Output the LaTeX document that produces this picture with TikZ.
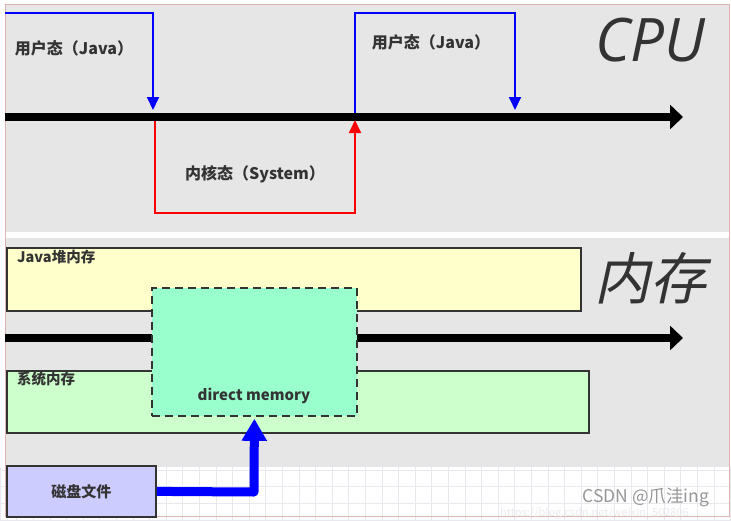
\documentclass[tikz,border=0pt]{standalone}
\usepackage{fontspec}
\setmainfont{Noto Sans CJK SC}
\newfontfamily\cpufont{Open Sans}
\newfontfamily\slcjk{Noto Sans CJK SC}[FakeSlant=0.22]
\usetikzlibrary{arrows.meta}
\definecolor{panelgray}{HTML}{E6E6E6}
\definecolor{heapyellow}{HTML}{FFFFCC}
\definecolor{sysgreen}{HTML}{CCFFCC}
\definecolor{mint}{HTML}{99FFCC}
\definecolor{diskblue}{HTML}{CCCCFF}
\definecolor{txt}{HTML}{333333}
\definecolor{gridc}{HTML}{E8E8EE}
\definecolor{framec}{HTML}{DCB4B4}
\definecolor{pureblue}{HTML}{0000FF}
\definecolor{purered}{HTML}{FF0000}
\definecolor{wmgray}{HTML}{969696}
\definecolor{urlgray}{HTML}{EBEBEF}
\tikzset{
  panel/.style={fill=panelgray},
  membox/.style={draw=txt, line width=1.8pt, anchor=north west, inner sep=0pt},
  lbl/.style={text=txt, font=\bfseries\fontsize{16}{18}\selectfont, inner sep=0pt},
  boxlbl/.style={text=txt, font=\bfseries\fontsize{15}{17}\selectfont, inner sep=0pt},
  smalllbl/.style={text=txt, font=\bfseries\fontsize{14.5}{16}\selectfont, inner sep=0pt, anchor=north west},
  timeline/.style={line width=8pt, -{Triangle[length=13pt,width=24pt]}},
  bluestate/.style={draw=pureblue, line width=1.8pt, -{Triangle[length=13pt,width=12pt]}},
  redstate/.style={draw=purered, line width=1.8pt, -{Triangle[length=13pt,width=12pt]}},
  bigblue/.style={draw=pureblue, line width=9pt, line join=round, -{Triangle[length=22pt,width=24pt]}},
  bigtitle/.style={text=txt, inner sep=0pt},
}
\begin{document}
\begin{tikzpicture}[x=1pt,y=-1pt]
\useasboundingbox (0,0) rectangle (731,520);
\fill[white] (0,0) rectangle (731,520);
% grid in the white area
\foreach \gx in {0,16.6,...,731} \draw[gridc, line width=0.6pt] (\gx,467) -- (\gx,520);
\foreach \gy in {470,486.6,...,520} \draw[gridc, line width=0.6pt] (0,\gy) -- (731,\gy);
% panels
\fill[panel] (5,4) rectangle (729,232);
\fill[panel] (5,238) rectangle (729,467);
\draw[framec, line width=0.6pt] (5,4) rectangle (729,516);

% ---------- CPU ----------
\coordinate (cpuS) at (5,117);
\coordinate (cpuE) at (683,117);
\draw[timeline] (cpuS) -- (cpuE);

\coordinate (b1a) at (5,13);
\coordinate (b1b) at (153,110);
\draw[bluestate] (b1a) -| (b1b);

\coordinate (r1a) at (155,121);
\coordinate (r1c) at (355,213);
\coordinate (r1b) at (355,120);
\draw[redstate] (r1a) |- (r1c) -- (r1b);

\coordinate (b2a) at (355,113);
\coordinate (b2c) at (515,13);
\coordinate (b2b) at (515,110);
\draw[bluestate] (b2a) |- (b2c) -- (b2b);

\node[lbl] (u1) at (74,48) {用户态（Java）};
\node[lbl] (u2) at (431,42) {用户态（Java）};
\node[lbl] (k1) at (255,174) {内核态（System）};
\node[bigtitle, font=\cpufont\itshape\fontsize{60}{60}\selectfont] (cpu) at (650,40) {CPU};

% ---------- Memory ----------
\node[membox, fill=heapyellow, minimum width=574pt, minimum height=63pt] (heap) at (6,247) {};
\node[smalllbl] (heapl) at (17,250) {Java堆内存};
\node[membox, fill=sysgreen, minimum width=582pt, minimum height=62pt] (sys) at (6,370) {};
\node[smalllbl] (sysl) at (17,372) {系统内存};

\coordinate (memS) at (5,338);
\coordinate (memE) at (683,338);
\draw[timeline] (memS) -- (memE);

\node[membox, dashed, dash pattern=on 8pt off 5pt, fill=mint, minimum width=205pt, minimum height=128pt] (dm) at (151,287) {};
\node[boxlbl] (dml) at (254,396) {direct memory};

\node[membox, fill=diskblue, minimum width=149pt, minimum height=51pt] (disk) at (6,465) {};
\node[boxlbl] (diskl) at (disk.center) {磁盘文件};

\coordinate (bend) at (254,492);
\draw[bigblue] (disk.east) -- (bend) -- ([yshift=-2pt]dm.south);

\node[bigtitle, font=\slcjk\fontsize{56}{56}\selectfont] (mem) at (650,278) {内存};

% watermark
\node[text=wmgray, font=\fontsize{17.5}{18}\selectfont, inner sep=0pt] (wm) at (646,497) {CSDN @爪洼ing};
\node[text=urlgray, font=\fontsize{11}{11}\selectfont, inner sep=0pt, anchor=west] (url) at (500,513) {https://blog.csdn.net/weixin\_502806};
\end{tikzpicture}
\end{document}
